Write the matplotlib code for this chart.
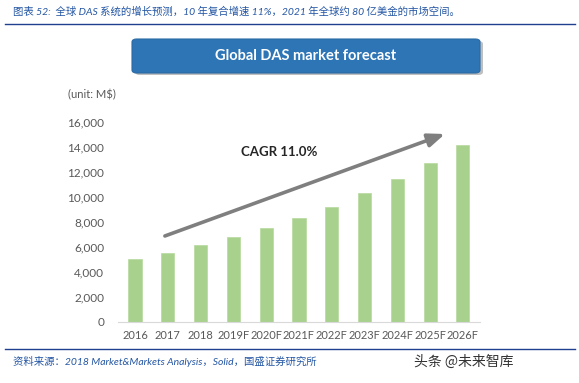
import matplotlib.pyplot as plt
from matplotlib.patches import FancyBboxPatch
from matplotlib.lines import Line2D

plt.rcParams['font.family'] = ['Lato', 'Noto Sans CJK SC', 'DejaVu Sans']

years = ["2016", "2017", "2018", "2019F", "2020F", "2021F",
         "2022F", "2023F", "2024F", "2025F", "2026F"]
market = [5040, 5540, 6130, 6770, 7550, 8350, 9220, 10290, 11410, 12690, 14160]
yticks = [0, 2000, 4000, 6000, 8000, 10000, 12000, 14000, 16000]

header = "图表 52:  全球 DAS 系统的增长预测，10 年复合增速 11%，2021 年全球约 80 亿美金的市场空间。"
source = "资料来源：2018 Market&Markets Analysis，Solid，国盛证券研究所"
title = "Global DAS market forecast"
cagr = "CAGR 11.0%"

blue_txt = "#2456A4"
grey = "#595959"

fig = plt.figure(figsize=(5.79, 3.83), dpi=100)
ax = fig.add_axes([0.2038, 0.1593, 0.6252, 0.5222])

x = range(len(years))
ax.bar(x, market, width=0.4, color="#A9D18E", edgecolor="#B5D99C", linewidth=0.5)
ax.set_xlim(-0.52, len(years) - 0.48)
ax.set_ylim(0, 16000)
ax.set_xticks(list(x))
ax.set_xticklabels(years)
ax.set_yticks(yticks)
ax.set_yticklabels([f"{v:,}" for v in yticks])
ax.tick_params(axis="both", length=0, colors=grey, labelsize=8)
ax.tick_params(axis="y", pad=10, labelsize=8.5)
ax.tick_params(axis="x", pad=6)
for side in ["top", "right", "left"]:
    ax.spines[side].set_visible(False)
ax.spines["bottom"].set_color("#D9D9D9")

# growth arrow and label
ax.annotate("", xy=(9.45, 15040), xytext=(0.91, 6880),
            arrowprops=dict(arrowstyle="-|>,head_length=1.0,head_width=0.4",
                            color="#7F7F7F", lw=2.6, shrinkA=0, shrinkB=0))
ax.text(4.4, 13600, cagr, ha="center", va="center", fontsize=9.5,
        fontweight="bold", color="#262626")

# title box with shadow
shadow = FancyBboxPatch((135 / 579, 1 - 75 / 383), 348 / 579, 34 / 383,
                        boxstyle="round,pad=0,rounding_size=0.008",
                        transform=fig.transFigure, facecolor="#BFBFBF",
                        edgecolor="none", zorder=1)
box = FancyBboxPatch((132 / 579, 1 - 73 / 383), 348 / 579, 34 / 383,
                     boxstyle="round,pad=0,rounding_size=0.008",
                     transform=fig.transFigure, facecolor="#2E75B6",
                     edgecolor="#2A6AA5", linewidth=0.8, zorder=2)
fig.patches.extend([shadow, box])
fig.text(306 / 579, 1 - 56 / 383, title, ha="center", va="center",
         fontsize=10.5, fontweight="bold", color="white", zorder=3)

fig.text(68 / 579, 1 - 95 / 383, "(unit: M$)", ha="left", va="center",
         fontsize=8, color=grey)

# header and footer
fig.text(13 / 579, 1 - 12 / 383, header, ha="left", va="center",
         fontsize=7.5, color=blue_txt, style="italic")
fig.add_artist(Line2D([5 / 579, 575 / 579], [1 - 24 / 383, 1 - 24 / 383],
                      transform=fig.transFigure, color="#1F3F8F", lw=1))
fig.add_artist(Line2D([5 / 579, 575 / 579], [1 - 349 / 383, 1 - 349 / 383],
                      transform=fig.transFigure, color="#1F3F8F", lw=1))
fig.text(13 / 579, 1 - 361 / 383, source, ha="left", va="center",
         fontsize=7.5, color=blue_txt, style="italic")
fig.text(513 / 579, 1 - 362 / 383, "头条 @未来智库", ha="right", va="center",
         fontsize=10, color="#333333", family=["Noto Sans CJK SC", "DejaVu Sans"])

fig.savefig("out.png", dpi=100)
